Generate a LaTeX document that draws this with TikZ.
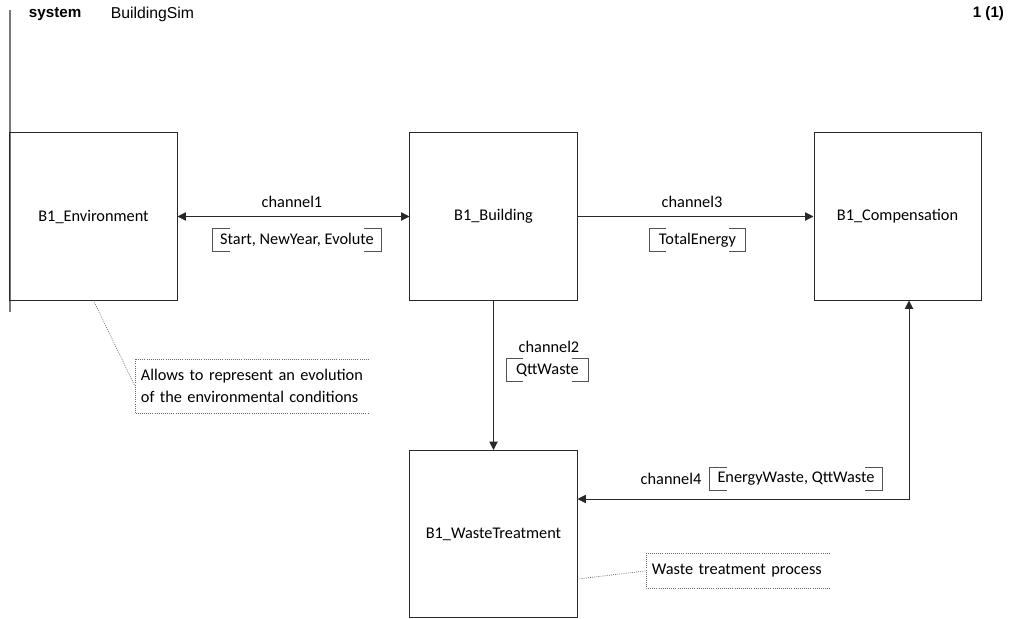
\documentclass[tikz,border=0pt]{standalone}
\usepackage{fontspec}
\setmainfont{Carlito}
\newfontfamily\arialfont{Liberation Sans}
\usepackage{xcolor}
\usetikzlibrary{arrows.meta}
\definecolor{edge}{RGB}{40, 40, 40}
\definecolor{frame}{RGB}{120, 120, 120}

% brackets round a signal list
\newcommand{\sigbrk}[1]{%
  \draw[brk] ([xshift=12pt]#1.north west) -| (#1.south west) -- ++(12pt,0);
  \draw[brk] ([xshift=-12pt]#1.north east) -| (#1.south east) -- ++(-12pt,0);}

\begin{document}
\begin{tikzpicture}[x=0.025cm, y=-0.025cm, >={Triangle[length=6pt,width=6pt]},
    blk/.style={draw=edge, line width=0.7pt, minimum width=4.175cm, minimum height=4.175cm, font=\fontsize{11.6}{14}\selectfont},
    chan/.style={draw=edge, line width=0.7pt},
    lbl/.style={font=\fontsize{11.6}{14}\selectfont, inner sep=1pt},
    sig/.style={font=\fontsize{11.6}{14}\selectfont, inner sep=0pt, minimum height=0.58cm},
    brk/.style={draw=edge!80, line width=0.6pt},
    note/.style={font=\fontsize{11.6}{15.6}\selectfont, inner xsep=4pt, align=left, anchor=north west},
    dotline/.style={draw=edge!70, dash pattern=on 0.6pt off 0.9pt, line width=0.5pt}]
  \useasboundingbox (0,0) rectangle (1016,618);

  % Frame and heading
  \draw[frame, line width=1pt] (10,10) -- (10,312);
  \node[anchor=west, font=\arialfont\bfseries\fontsize{10.8}{12}\selectfont] (kind) at (24,14) {system};
  \node[anchor=west, font=\arialfont\fontsize{11.2}{12}\selectfont] (name) at (106,14) {BuildingSim};
  \node[anchor=east, font=\arialfont\bfseries\fontsize{10.8}{12}\selectfont] (page) at (1009,14) {1 (1)};

  % Blocks
  \node[blk] (env) at (93.5,216.5) {B1\_Environment};
  \node[blk] (bld) at (493.5,216.5) {B1\_Building};
  \node[blk] (cmp) at (897.5,216.5) {B1\_Compensation};
  \node[blk] (wst) at (493.5,534) {B1\_WasteTreatment};

  % Channel 1
  \draw[chan, <->] (env.east) -- (bld.west);
  \node[lbl] (c1) at (292,202) {channel1};
  \node[sig, minimum width=4.2cm] (s1) at (297,240) {Start, NewYear, Evolute};
  \sigbrk{s1}

  % Channel 3
  \draw[chan, ->] (bld.east) -- (cmp.west);
  \node[lbl] (c3) at (692,202) {channel3};
  \node[sig, minimum width=2.4cm] (s3) at (697.5,240) {TotalEnergy};
  \sigbrk{s3}

  % Channel 2
  \draw[chan, ->] (bld.south) -- (wst.north);
  \node[lbl] (c2) at (549,347) {channel2};
  \node[sig, minimum width=2.05cm] (s2) at (547.5,370) {QttWaste};
  \sigbrk{s2}

  % Channel 4
  \coordinate (bend) at (909,499);
  \draw[chan, <->] (wst.east |- bend) -- (bend) -- (bend |- cmp.south);
  \node[lbl] (c4) at (671,479) {channel4};
  \node[sig, minimum width=4.3cm] (s4) at (796,479) {EnergyWaste, QttWaste};
  \sigbrk{s4}

  % Comments
  \node[note, text width=5.55cm, minimum height=1.35cm] (enote) at (135,359)
    {Allows to represent an evolution\\of the environmental conditions};
  \draw[dotline] (enote.north east) -- (enote.north west) -- (enote.south west) -- (enote.south east);
  \draw[dotline] (env.south) -- (enote.west);

  \node[note, text width=4.3cm, minimum height=0.875cm] (wnote) at (646,553) {Waste treatment process};
  \draw[dotline] (wnote.north east) -- (wnote.north west) -- (wnote.south west) -- (wnote.south east);
  \draw[dotline] ([yshift=-32pt]wst.east) -- (wnote.west);
\end{tikzpicture}
\end{document}
